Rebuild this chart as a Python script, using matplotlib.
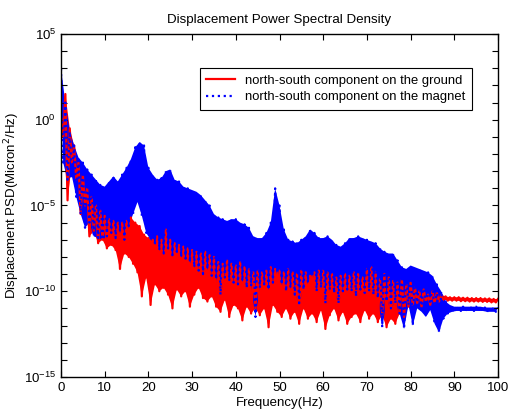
import numpy as np
import matplotlib
matplotlib.use('Agg')
import matplotlib.pyplot as plt
from matplotlib.ticker import LogLocator, NullFormatter, FixedLocator

plt.rcParams['font.family'] = ['Liberation Sans', 'DejaVu Sans']

# frequencies (Hz) of the peak samples and of the trough samples in between
freq_hi = np.arange(0, 101, 1.0)
freq_lo = np.arange(0.5, 100, 1.0)

# log10 of PSD: upper envelope (peaks) at integer Hz
ground_hi_exp = [
    0.2, 1.5, -0.5, -1.5, -2.5, -3.2, -4.0, -4.5, -5.0, -5.3,
    -5.6, -5.8, -5.9, -6.0, -6.0, -5.9, -5.7, -6.0, -6.2, -6.7,
    -6.9, -7.0, -6.8, -7.0, -6.4, -7.0, -7.2, -7.3, -7.4, -7.5,
    -7.6, -7.7, -7.8, -7.7, -7.9, -8.0, -8.3, -8.4, -8.2, -8.4,
    -8.5, -8.3, -8.6, -8.7, -8.9, -8.8, -8.9, -8.8, -8.6, -8.7,
    -8.8, -8.9, -8.7, -8.9, -9.0, -8.8, -8.9, -9.1, -8.9, -8.8,
    -8.8, -8.9, -9.0, -9.2, -9.1, -9.0, -9.1, -8.9, -9.0, -9.2,
    -8.7, -8.6, -8.9, -9.3, -9.0, -9.2, -9.4, -9.5, -9.3, -9.6,
    -9.5, -9.8, -10.0, -9.9, -10.2, -10.0, -10.1, -10.2, -10.3, -10.35,
    -10.35, -10.35, -10.38, -10.38, -10.4, -10.4, -10.4, -10.42, -10.42, -10.45,
    -10.45,
]
# troughs at half-integer Hz
ground_lo_exp = [
    -1.0, -4.7, -2.5, -3.5, -5.5, -5.0, -6.8, -6.5, -7.2, -7.0,
    -7.5, -7.3, -7.6, -8.7, -7.8, -8.0, -8.4, -8.9, -10.3, -9.2,
    -10.8, -9.6, -10.0, -9.8, -10.2, -11.0, -9.9, -10.3, -10.0, -10.9,
    -10.2, -9.8, -10.4, -10.6, -10.3, -10.9, -11.2, -10.5, -11.5, -10.8,
    -11.0, -11.7, -10.9, -11.3, -11.0, -11.4, -11.0, -12.1, -10.8, -11.2,
    -11.5, -11.0, -11.6, -11.2, -11.9, -11.0, -11.6, -11.3, -11.8, -11.1,
    -12.2, -11.4, -11.0, -11.7, -11.2, -11.9, -11.5, -11.3, -11.8, -11.1,
    -11.6, -11.3, -11.8, -11.4, -12.1, -11.6, -11.9, -11.3, -11.5, -10.9,
    -10.8, -10.7, -10.9, -10.6, -10.8, -10.7, -10.6, -10.5, -10.55, -10.55,
    -10.55, -10.58, -10.58, -10.6, -10.6, -10.6, -10.62, -10.62, -10.65, -10.65,
]

magnet_hi_exp = [
    3.0, 1.0, -0.7, -1.5, -2.2, -2.5, -2.9, -3.2, -3.5, -3.8,
    -3.9, -3.6, -3.3, -3.6, -3.2, -2.8, -2.3, -1.6, -1.3, -1.5,
    -2.8, -3.2, -3.5, -3.4, -3.0, -2.9, -3.5, -3.6, -3.9, -4.0,
    -4.1, -4.2, -4.4, -4.7, -5.0, -5.5, -5.7, -5.8, -5.9, -5.8,
    -5.8, -6.0, -6.1, -6.3, -6.8, -6.9, -6.9, -6.6, -6.0, -4.0,
    -5.0, -6.4, -7.0, -7.1, -7.2, -7.0, -6.8, -6.4, -6.6, -6.9,
    -6.9, -6.8, -7.0, -7.3, -7.4, -7.2, -6.9, -6.9, -6.8, -6.9,
    -7.0, -7.1, -7.2, -7.5, -7.7, -7.8, -7.8, -8.2, -8.6, -8.7,
    -8.5, -8.6, -8.7, -8.8, -8.9, -9.1, -9.6, -10.0, -10.6, -10.8,
    -10.9, -10.9, -10.9, -10.9, -10.9, -10.9, -10.9, -10.95, -10.95, -10.95,
    -10.95,
]
magnet_lo_exp = [
    -2.5, -3.5, -3.3, -4.5, -5.5, -6.3, -6.0, -6.8, -6.9, -7.0,
    -6.8, -6.6, -6.9, -6.5, -7.0, -6.2, -5.5, -4.8, -5.6, -6.6,
    -7.0, -7.2, -7.6, -7.8, -7.5, -7.9, -7.7, -8.0, -8.1, -8.3,
    -8.6, -8.8, -9.0, -8.7, -9.1, -9.3, -10.2, -9.2, -9.4, -9.5,
    -9.6, -9.4, -9.8, -9.7, -11.5, -9.8, -9.6, -9.9, -9.5, -8.8,
    -9.6, -10.0, -9.8, -10.2, -10.7, -9.9, -9.5, -9.0, -10.0, -9.8,
    -10.7, -9.9, -10.1, -10.7, -10.0, -9.9, -10.0, -10.3, -9.9, -10.1,
    -10.0, -10.2, -10.4, -12.1, -10.6, -11.0, -10.7, -11.3, -12.2, -10.8,
    -12.0, -11.0, -11.2, -11.5, -11.1, -11.9, -12.4, -11.6, -11.3, -11.2,
    -11.15, -11.15, -11.15, -11.15, -11.15, -11.15, -11.15, -11.2, -11.2, -11.2,
]


def zigzag(hi_exp, lo_exp):
    # alternate peak / trough samples in frequency order
    f = np.empty(len(freq_hi) + len(freq_lo))
    v = np.empty_like(f)
    f[0::2], f[1::2] = freq_hi, freq_lo
    v[0::2], v[1::2] = 10.0 ** np.array(hi_exp), 10.0 ** np.array(lo_exp)
    return f, v


def band(ax, hi_exp, lo_exp, color):
    # the dense trace reads as a solid band between its peaks and troughs
    xs = np.r_[freq_hi, freq_lo[::-1]]
    ys = 10.0 ** np.r_[hi_exp, lo_exp[::-1]]
    ax.fill(xs, ys, color=color, lw=0)


fig = plt.figure(figsize=(5.10, 4.13), dpi=100)
ax = fig.add_axes([0.1196, 0.0872, 0.8569, 0.8305])

fg, vg = zigzag(ground_hi_exp, ground_lo_exp)
fm, vm = zigzag(magnet_hi_exp, magnet_lo_exp)

band(ax, ground_hi_exp, ground_lo_exp, '#ff0000')
ax.plot(fg, vg, color='#ff0000', lw=1.6, ls='-',
        label='north-south component on the ground')
band(ax, magnet_hi_exp, magnet_lo_exp, '#0000ff')
ax.plot(fm, vm, color='#0000ff', lw=1.6, ls=':',
        label='north-south component on the magnet')

ax.set_yscale('log')
ax.set_xlim(0, 100)
ax.set_ylim(1e-15, 1e5)
ax.set_xticks(np.arange(0, 101, 10))
ax.yaxis.set_major_locator(FixedLocator([1e-15, 1e-10, 1e-5, 1e0, 1e5]))
ax.yaxis.set_minor_locator(LogLocator(base=10, subs=(1.0,), numticks=30))
ax.yaxis.set_minor_formatter(NullFormatter())
ax.tick_params(which='both', direction='in', top=True, right=True,
               labelsize=9.5, width=0.8, length=4)
for s in ax.spines.values():
    s.set_linewidth(1.0)

ax.set_title('Displacement Power Spectral Density', fontsize=9.6, pad=8)
ax.set_xlabel('Frequency(Hz)', fontsize=9.5, labelpad=2)
ax.set_ylabel('Displacement PSD(Micron$^2$/Hz)', fontsize=9.5, labelpad=1)

leg = ax.legend(loc='upper right', bbox_to_anchor=(0.9405, 0.901),
                borderaxespad=0, fontsize=9.4, fancybox=False, framealpha=1,
                edgecolor='black', handlelength=2.2, borderpad=0.5,
                labelspacing=0.35)
leg.get_frame().set_linewidth(0.8)

fig.savefig('out.png', dpi=100)
